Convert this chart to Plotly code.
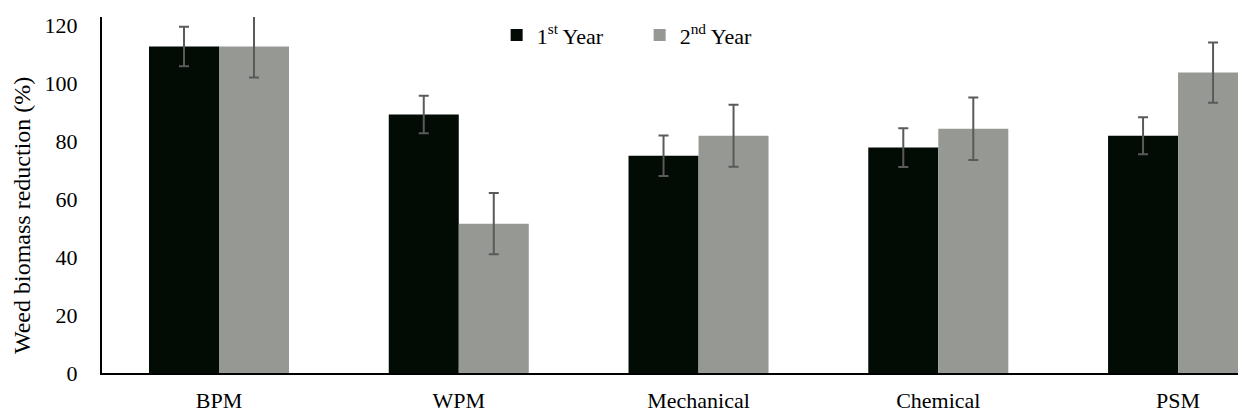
import plotly.graph_objects as go

categories = ["BPM", "WPM", "Mechanical", "Chemical", "PSM"]
year1 = [112.8, 89.3, 75.1, 77.9, 82.0]
year1_err = [6.8, 6.5, 7.0, 6.7, 6.4]
year2 = [112.8, 51.6, 82.0, 84.4, 103.8]
year2_err = [10.7, 10.6, 10.7, 10.8, 10.4]
series_names = ["1<sup>st</sup> Year", "2<sup>nd</sup> Year"]
y_ticks = [0, 20, 40, 60, 80, 100, 120]
y_title = "Weed biomass reduction (%)"

FONT = "Liberation Serif, Times New Roman, serif"

fig = go.Figure()
fig.add_trace(go.Bar(
    x=categories, y=year1, name=series_names[0],
    marker=dict(color="#030b05", line=dict(width=0)),
    error_y=dict(type="data", array=year1_err, visible=True,
                 color="#5a5a5a", thickness=2, width=5),
))
fig.add_trace(go.Bar(
    x=categories, y=year2, name=series_names[1],
    marker=dict(color="#969993", line=dict(width=0)),
    error_y=dict(type="data", array=year2_err, visible=True,
                 color="#5a5a5a", thickness=2, width=5),
))

fig.update_layout(
    width=1238, height=414,
    margin=dict(l=102, r=0, t=17, b=41, autoexpand=False),
    plot_bgcolor="white", paper_bgcolor="white",
    barmode="group", bargap=0.416, bargroupgap=0,
    font=dict(family=FONT, size=22, color="black"),
    legend=dict(orientation="h", x=0.3474, y=1.008, xanchor="left", yanchor="top",
                font=dict(family=FONT, size=22), bgcolor="rgba(0,0,0,0)",
                entrywidth=98, entrywidthmode="pixels"),
    showlegend=True,
    annotations=[dict(text=y_title, xref="paper", yref="paper",
                      x=-0.0704, y=0.441, textangle=-90, showarrow=False,
                      xanchor="center", yanchor="middle",
                      font=dict(family=FONT, size=24, color="black"))],
)
fig.update_xaxes(
    range=[-0.488, 4.25], showline=True, linecolor="black", linewidth=2,
    ticks="", showgrid=False, tickfont=dict(size=22, family=FONT),
    ticklabelstandoff=7, automargin=False,
)
fig.update_yaxes(
    range=[0, 123], tickvals=y_ticks, showline=True, linecolor="black",
    linewidth=2, ticks="", showgrid=False, zeroline=False,
    tickfont=dict(size=22, family=FONT), ticklabelstandoff=18, automargin=False,
)

fig.write_html("out.html", config={"displayModeBar": False},
               post_script="document.body.style.margin='0';document.body.style.overflow='hidden';")
